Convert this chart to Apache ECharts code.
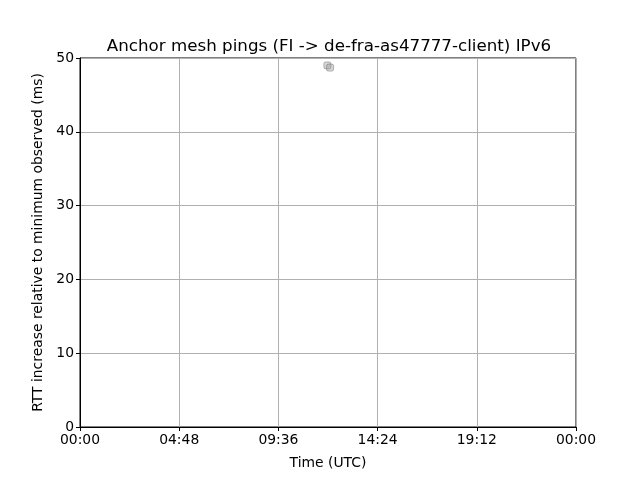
<!DOCTYPE html>
<html><head><meta charset="utf-8">
<script src="https://cdn.jsdelivr.net/npm/echarts@6/dist/echarts.min.js"></script>
<style>html,body{margin:0;padding:0;background:#fff}#c{width:640px;height:480px}</style>
</head><body><div id="c"></div>
<script>
const title = 'Anchor mesh pings (FI -> de-fra-as47777-client) IPv6';
const xTickLabels = ['00:00','04:48','09:36','14:24','19:12','00:00'];
// time in hours (UTC), RTT increase in ms
const pointHours = [11.97, 12.1];
const pointRtt = [49.0, 48.7];

const chart = echarts.init(document.getElementById('c'), null, {renderer:'canvas'});
const font = 'DejaVu Sans';
chart.setOption({
  animation:false,
  backgroundColor:'#fff',
  title:{text:title,left:324,top:33,textAlign:'center',textStyle:{fontFamily:font,fontSize:16.7,fontWeight:'normal',color:'#000'}},
  grid:{left:80,right:64,top:58,bottom:53,show:true,borderColor:'#000',borderWidth:1},
  xAxis:{type:'value',min:0,max:24,interval:4.8,name:'Time (UTC)',nameLocation:'middle',nameGap:29,
    nameTextStyle:{fontFamily:font,fontSize:13.9,color:'#000'},
    axisLine:{show:true,lineStyle:{color:'#000'}},axisTick:{show:true,length:4,inside:false,lineStyle:{color:'#000'}},
    axisLabel:{fontFamily:font,fontSize:13.9,color:'#000',margin:6,formatter:(v)=>xTickLabels[Math.round(v/4.8)]},
    splitLine:{show:true,lineStyle:{color:'#b0b0b0',width:1}}},
  yAxis:{type:'value',min:0,max:50,interval:10,name:'RTT increase relative to minimum observed (ms)',nameLocation:'middle',nameGap:35,
    nameTextStyle:{fontFamily:font,fontSize:13.9,color:'#000'},
    axisLine:{show:true,lineStyle:{color:'#000'}},axisTick:{show:true,length:4,lineStyle:{color:'#000'}},
    axisLabel:{fontFamily:font,fontSize:13.9,color:'#000',margin:6},
    splitLine:{show:true,lineStyle:{color:'#b0b0b0',width:1}}},
  series:[{type:'scatter',symbol:'roundRect',symbolSize:7,
    data:pointHours.map((h,i)=>[h,pointRtt[i]]),
    itemStyle:{color:'rgba(150,150,150,0.5)',borderColor:'rgba(90,90,90,0.5)',borderWidth:1}}]
});
</script></body></html>
